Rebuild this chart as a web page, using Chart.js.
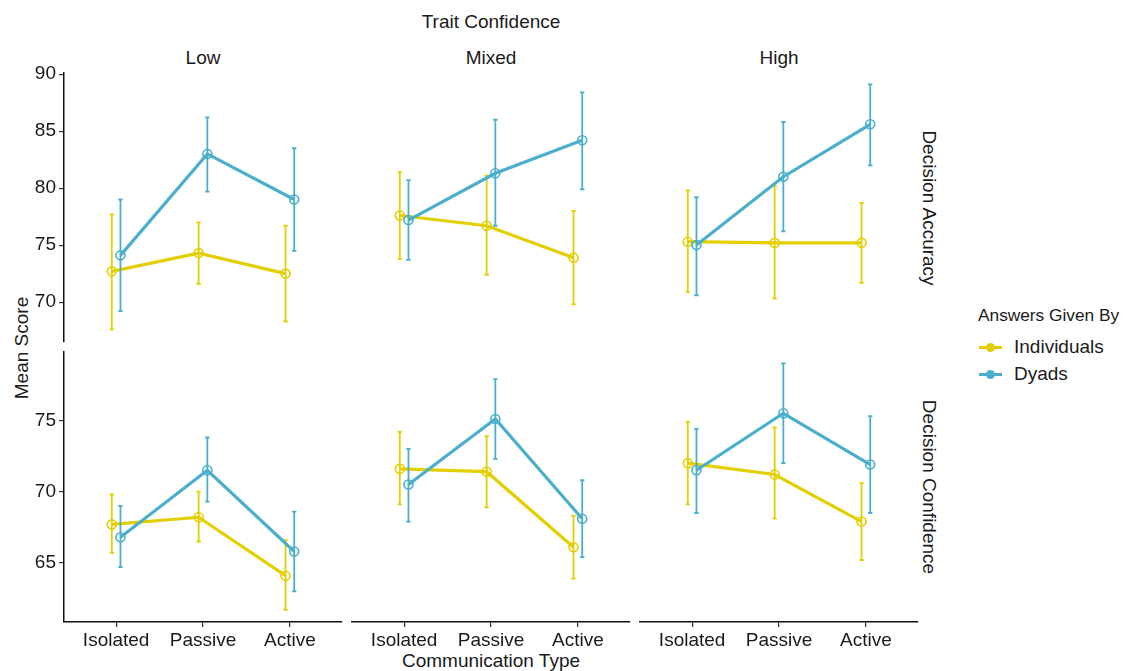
<!DOCTYPE html>
<html>
<head>
<meta charset="utf-8">
<title>Mean Score by Communication Type</title>
<script src="https://cdn.jsdelivr.net/npm/chart.js@4.4.1/dist/chart.umd.min.js"></script>
<style>
  html, body { margin: 0; padding: 0; background: #fff; }
  #wrap {
    position: relative; width: 1125px; height: 671px; overflow: hidden;
    font-family: "Liberation Sans", Arial, Helvetica, sans-serif; color: #1a1a1a;
  }
  #wrap canvas { position: absolute; left: 0; top: 0; }
  .lbl {
    position: absolute; white-space: nowrap; line-height: 1; font-size: 19px;
    transform: translate(-50%, -50%);
  }
  .rot-cw  { transform: translate(-50%, -50%) rotate(90deg); }
  .rot-ccw { transform: translate(-50%, -50%) rotate(-90deg); }
  .legend-title { position: absolute; left: 978px; top: 307px; font-size: 17.3px; line-height: 1; white-space: nowrap; }
  .legend-row { position: absolute; left: 979px; height: 20px; }
  .legend-row .key-line { position: absolute; left: 0; top: 8.5px; width: 23px; height: 3px; }
  .legend-row .key-dot { position: absolute; left: 7px; top: 5.5px; width: 9px; height: 9px; border-radius: 50%; }
  .legend-row span { position: absolute; left: 35px; top: 0; font-size: 19px; line-height: 20px; white-space: nowrap; }
</style>
</head>
<body>
<div id="wrap">
  <div class="lbl" style="left:491px;top:21px;">Trait Confidence</div>
  <div class="lbl" style="left:203px;top:57px;">Low</div>
  <div class="lbl" style="left:491px;top:57px;">Mixed</div>
  <div class="lbl" style="left:779px;top:57px;">High</div>
  <div class="lbl rot-cw" style="left:929px;top:207.5px;">Decision Accuracy</div>
  <div class="lbl rot-cw" style="left:929px;top:487px;">Decision Confidence</div>
  <div class="lbl rot-ccw" style="left:21px;top:347.5px;">Mean Score</div>
  <div class="lbl" style="left:491px;top:660px;">Communication Type</div>

  <div class="legend-title">Answers Given By</div>
  <div class="legend-row" style="top:337px;">
    <div class="key-line" style="background:#E3CF00"></div><div class="key-dot" style="background:#E3CF00"></div>
    <span>Individuals</span>
  </div>
  <div class="legend-row" style="top:364px;">
    <div class="key-line" style="background:#4AAFCB"></div><div class="key-dot" style="background:#4AAFCB"></div>
    <span>Dyads</span>
  </div>
</div>

<script>
"use strict";

/* ---------- data ---------- */
const communicationTypes = ["Isolated", "Passive", "Active"];
const traitLevels = ["Low", "Mixed", "High"];
const groups = ["Individuals", "Dyads"];

// Decision Accuracy: one row per trait level (Low, Mixed, High), columns = communication type
const accIndMean = [[72.7, 74.3, 72.5], [77.6, 76.7, 73.9], [75.3, 75.2, 75.2]];
const accIndLow  = [[67.6, 71.6, 68.3], [73.8, 72.4, 69.8], [70.9, 70.3, 71.7]];
const accIndHigh = [[77.7, 77.0, 76.7], [81.4, 81.1, 78.0], [79.8, 80.2, 78.7]];
const accDyMean  = [[74.1, 83.0, 79.0], [77.2, 81.3, 84.2], [75.0, 81.0, 85.6]];
const accDyLow   = [[69.2, 79.7, 74.5], [73.7, 76.7, 79.9], [70.6, 76.2, 82.0]];
const accDyHigh  = [[79.0, 86.2, 83.5], [80.7, 86.0, 88.4], [79.2, 85.8, 89.1]];

// Decision Confidence
const confIndMean = [[67.7, 68.2, 64.1], [71.6, 71.4, 66.1], [72.0, 71.2, 67.9]];
const confIndLow  = [[65.7, 66.5, 61.7], [69.1, 68.9, 63.9], [69.1, 68.1, 65.2]];
const confIndHigh = [[69.8, 70.0, 66.6], [74.2, 73.9, 68.3], [74.9, 74.5, 70.6]];
const confDyMean  = [[66.8, 71.5, 65.8], [70.5, 75.1, 68.1], [71.5, 75.5, 71.9]];
const confDyLow   = [[64.7, 69.3, 63.0], [67.9, 72.3, 65.4], [68.5, 72.0, 68.5]];
const confDyHigh  = [[69.0, 73.8, 68.6], [73.0, 77.9, 70.8], [74.4, 79.0, 75.3]];

const accTicks  = [70, 75, 80, 85, 90];
const confTicks = [65, 70, 75];
const accRange  = [66.5, 90.1];
const confRange = [60.85, 79.8];

/* ---------- look & layout ---------- */
const COLORS = { Individuals: "#E3CF00", Dyads: "#4AAFCB" };
const DODGE = 0.05;        // horizontal offset of each group, category units
const CAP_WIDTH = 0.05;    // error bar cap width, category units
const TEXT = "#1a1a1a";
const FONT = "'Liberation Sans', Arial, Helvetica, sans-serif";

const W = 1125, H = 671;
const panelCols = [[64, 342], [352, 630], [640, 918]];
const panelRows = [[73, 342], [352, 622]];
const Y_AXIS_W = 64, X_AXIS_H = 32;

// error bars drawn just before their own series so layering follows dataset order
const errorBars = {
  id: "errorBars",
  beforeDatasetDraw(chart, args) {
    const ds = chart.data.datasets[args.index];
    if (!ds.errLow) return;
    const xs = chart.scales.x, ys = chart.scales.y, ctx = chart.ctx;
    ctx.save();
    ctx.strokeStyle = ds.borderColor;
    ctx.lineWidth = 1.8;
    ds.data.forEach((p, i) => {
      const x = xs.getPixelForValue(p.x);
      const half = xs.getPixelForValue(p.x + CAP_WIDTH / 2) - x;
      const yLo = ys.getPixelForValue(ds.errLow[i]);
      const yHi = ys.getPixelForValue(ds.errHigh[i]);
      ctx.beginPath();
      ctx.moveTo(x, yLo); ctx.lineTo(x, yHi);
      ctx.moveTo(x - half, yLo); ctx.lineTo(x + half, yLo);
      ctx.moveTo(x - half, yHi); ctx.lineTo(x + half, yHi);
      ctx.stroke();
    });
    ctx.restore();
  }
};

const series = (means, lows, highs, offset, name, order) => ({
  label: name,
  data: means.map((v, i) => ({ x: i + 1 + offset, y: v })),
  errLow: lows, errHigh: highs,
  borderColor: COLORS[name], backgroundColor: "rgba(0,0,0,0)",
  borderWidth: 3.2, tension: 0, order,
  pointStyle: "circle", pointRadius: 4.5, pointBorderWidth: 1.6,
  pointBorderColor: COLORS[name], pointBackgroundColor: "rgba(255,255,255,0)"
});

function makePanel(row, col) {
  const [left, right] = panelCols[col];
  const [top, bottom] = panelRows[row];
  const showY = col === 0, showX = row === 1;
  const t = col;

  const ind = row === 0 ? [accIndMean[t], accIndLow[t], accIndHigh[t]] : [confIndMean[t], confIndLow[t], confIndHigh[t]];
  const dy  = row === 0 ? [accDyMean[t], accDyLow[t], accDyHigh[t]]   : [confDyMean[t], confDyLow[t], confDyHigh[t]];
  const yTicks = row === 0 ? accTicks : confTicks;
  const yRange = row === 0 ? accRange : confRange;

  const canvas = document.createElement("canvas");
  canvas.width = W; canvas.height = H;
  document.getElementById("wrap").appendChild(canvas);

  new Chart(canvas, {
    type: "line",
    data: {
      datasets: [
        series(ind[0], ind[1], ind[2], -DODGE, groups[0], 1),
        series(dy[0], dy[1], dy[2], DODGE, groups[1], 0)
      ]
    },
    options: {
      responsive: false, animation: false,
      layout: {
        padding: {
          left: left - (showY ? Y_AXIS_W : 0),
          top: top,
          right: W - right,
          bottom: H - bottom - (showX ? X_AXIS_H : 0)
        }
      },
      plugins: { legend: { display: false }, tooltip: { enabled: false } },
      scales: {
        x: {
          type: "linear", min: 0.4, max: 3.6, display: showX,
          afterBuildTicks: s => { s.ticks = communicationTypes.map((_, i) => ({ value: i + 1 })); },
          afterFit: s => { if (showX) s.height = X_AXIS_H; },
          border: { display: true, color: "#111", width: 1.5 },
          grid: { drawOnChartArea: false, drawTicks: true, tickLength: 5, color: "#333", lineWidth: 1.2 },
          ticks: {
            autoSkip: false, maxRotation: 0, padding: 2, color: TEXT,
            font: { family: FONT, size: 19 },
            callback: v => communicationTypes[v - 1]
          }
        },
        y: {
          type: "linear", min: yRange[0], max: yRange[1], display: showY,
          afterBuildTicks: s => { s.ticks = yTicks.map(v => ({ value: v })); },
          afterFit: s => { if (showY) s.width = Y_AXIS_W; },
          border: { display: true, color: "#111", width: 1.5 },
          grid: { drawOnChartArea: false, drawTicks: true, tickLength: 5, color: "#333", lineWidth: 1.2 },
          ticks: { padding: 3, color: TEXT, font: { family: FONT, size: 19 } }
        }
      }
    },
    plugins: [errorBars]
  });
}

for (let row = 0; row < 2; row++) {
  for (let col = 0; col < 3; col++) makePanel(row, col);
}
</script>
</body>
</html>
